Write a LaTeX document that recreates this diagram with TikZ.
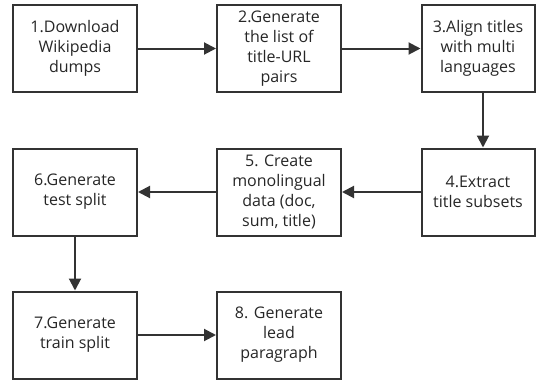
\documentclass[tikz,border=0pt]{standalone}
\usepackage{fontspec}
\setmainfont{Open Sans}
\usetikzlibrary{arrows.meta}
\definecolor{ink}{HTML}{333333}
\definecolor{txt}{HTML}{262626}
\begin{document}
\begin{tikzpicture}[x=1pt,y=-1pt,
  stepbox/.style={draw=ink,line width=2pt,minimum width=124pt,minimum height=87pt,inner sep=0pt,
    align=center,text=txt,font=\fontsize{16}{20}\selectfont},
  conn/.style={draw=ink,line width=2pt,-{Triangle[length=12pt,width=12pt]}}]
\useasboundingbox (0,0) rectangle (536,383);
\node[stepbox] (n1) at (75,48.5) {1.Download\\Wikipedia\\dumps};
\node[stepbox] (n2) at (279,48.5) {2.Generate\\the list of\\title-URL\\pairs};
\node[stepbox,minimum width=113pt] (n3) at (478,48.5) {3.Align titles\\with multi\\languages};
\node[stepbox,minimum width=113pt] (n4) at (478,192) {4.Extract\\title subsets};
\node[stepbox] (n5) at (279,192) {5. Create\\monolingual\\data (doc,\\sum, title)};
\node[stepbox] (n6) at (75,192) {6.Generate\\test split};
\node[stepbox] (n7) at (75,335) {7.Generate\\train split};
\node[stepbox] (n8) at (279,335) {8. Generate\\lead\\paragraph};
\draw[conn] (n1) -- (n2);
\draw[conn] (n2) -- (n3);
\draw[conn] (n3.south -| 483,0) -- (n4.north -| 483,0);
\draw[conn] (n4) -- (n5);
\draw[conn] (n5) -- (n6);
\draw[conn] (n6) -- (n7);
\draw[conn] (n7) -- (n8);
\end{tikzpicture}
\end{document}
